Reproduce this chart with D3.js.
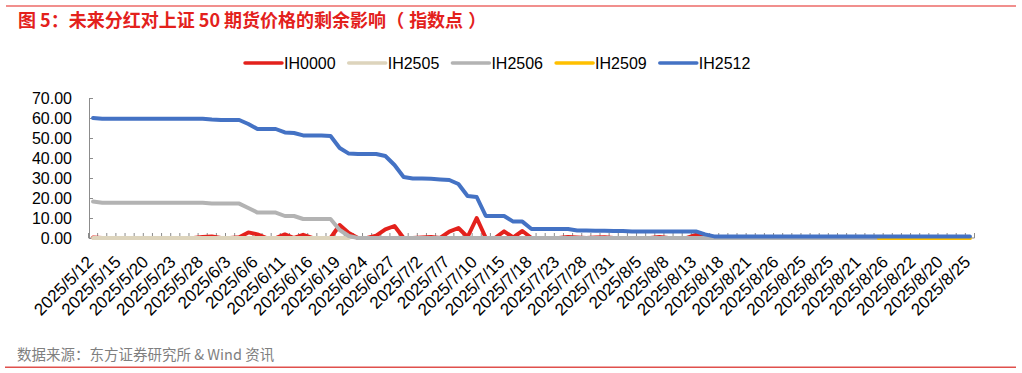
<!DOCTYPE html>
<html><head><meta charset="utf-8">
<script src="https://cdn.jsdelivr.net/npm/d3@7"></script>
<style>
html,body{margin:0;padding:0;background:#fff;}
svg{display:block;}
</style></head>
<body><svg id="chart" width="1022" height="373"></svg>
<script>
// ---- data ----
const categories = [
 "2025/5/12","2025/5/13","2025/5/14","2025/5/15","2025/5/16","2025/5/19","2025/5/20","2025/5/21","2025/5/22","2025/5/23",
 "2025/5/26","2025/5/27","2025/5/28","2025/5/29","2025/5/30","2025/6/3","2025/6/4","2025/6/5","2025/6/6","2025/6/9",
 "2025/6/10","2025/6/11","2025/6/12","2025/6/13","2025/6/16","2025/6/17","2025/6/18","2025/6/19","2025/6/20","2025/6/23",
 "2025/6/24","2025/6/25","2025/6/26","2025/6/27","2025/6/30","2025/7/1","2025/7/2","2025/7/3","2025/7/4","2025/7/7",
 "2025/7/8","2025/7/9","2025/7/10","2025/7/11","2025/7/14","2025/7/15","2025/7/16","2025/7/17","2025/7/18","2025/7/21",
 "2025/7/22","2025/7/23","2025/7/24","2025/7/25","2025/7/28","2025/7/29","2025/7/30","2025/7/31","2025/8/1","2025/8/4",
 "2025/8/5","2025/8/6","2025/8/7","2025/8/8","2025/8/11","2025/8/12","2025/8/13","2025/8/14","2025/8/15","2025/8/18",
 "2025/8/19","2025/8/20","2025/8/21","2025/8/22","2025/8/25","2025/8/26","2025/8/22","2025/8/25","2025/8/25","2025/8/26",
 "2025/8/22","2025/8/25","2025/8/26","2025/8/22","2025/8/21","2025/8/20","2025/8/22","2025/8/26","2025/8/25","2025/8/21",
 "2025/8/22","2025/8/21","2025/8/26","2025/8/20","2025/8/21","2025/8/22","2025/8/25"
];
const seriesNames = ["IH0000","IH2505","IH2506","IH2509","IH2512"];
const IH0000 = [
 0.3,0,0,0,0,0,0,0,0,0,
 0,0,0.5,0.8,0,0,0.4,2.8,1.8,0,
 0,1.8,0,1.6,0,0,0,6.5,2.5,0,
 0,1.2,4.3,6.0,0,0,0.3,0.5,0,3.2,
 5.0,0.5,10.0,0,0,3.3,0.3,3.5,0,0,
 0,0,0.5,0.3,0,0.3,0.4,0,0,0,
 0,0,0.5,0,0,0,1.5,0.5,0,0,
 0,0,0,0,0,0,null,null,null,null,
 null,null,null,null,null,null,null,null,null,null,
 null,null,null,null,null,null,null
];
const IH2505 = [
 0,0,0,0,0,0,0,0,0,0,
 0,0,0,0,0,0,0,0,0,0,
 0,0,0,0,0,0,0,0,0,null,
 null,null,null,null,null,null,null,null,null,null,
 null,null,null,null,null,null,null,null,null,null,
 null,null,null,null,null,null,null,null,null,null,
 null,null,null,null,null,null,null,null,null,null,
 null,null,null,null,null,null,null,null,null,null,
 null,null,null,null,null,null,null,null,null,null,
 null,null,null,null,null,null,null
];
const IH2506 = [
 18.2,17.6,17.6,17.6,17.6,17.6,17.6,17.6,17.6,17.6,
 17.6,17.6,17.6,17.2,17.2,17.2,17.2,15.0,12.7,12.7,
 12.7,11.0,11.0,9.5,9.5,9.5,9.5,4.0,1.0,0,
 0,0,0,0,0,0,0,0,0,0,
 0,0,0,0,0,0,0,0,0,0,
 0,0,0,0,0,0,0,0,0,0,
 0,0,0,0,0,0,0,0,0,0,
 0,0,0,0,0,0,0,0,0,0,
 0,0,0,0,0,0,0,0,0,0,
 0,0,0,0,0,0,0
];
const IH2509 = [
 null,null,null,null,null,null,null,null,null,null,
 null,null,null,null,null,null,null,null,null,null,
 null,null,null,null,null,null,null,null,null,null,
 null,null,null,null,null,null,null,null,null,null,
 null,null,null,null,null,null,null,null,null,null,
 null,null,null,null,null,null,null,null,null,null,
 null,null,null,null,null,null,null,null,null,null,
 null,null,null,null,null,null,null,null,null,null,
 null,null,null,null,null,null,0,0,0,0,
 0,0,0,0,0,0,0
];
const IH2512 = [
 60.0,59.6,59.6,59.6,59.6,59.6,59.6,59.6,59.6,59.6,
 59.6,59.6,59.6,59.2,59.0,59.0,59.0,57.0,54.5,54.5,
 54.5,52.8,52.5,51.3,51.2,51.2,51.0,45.0,42.2,42.0,
 42.0,42.0,41.0,36.5,30.5,29.8,29.8,29.6,29.3,29.0,
 27.0,21.0,20.5,11.0,11.0,11.0,8.2,8.2,4.5,4.5,
 4.5,4.5,4.5,3.8,3.7,3.6,3.6,3.5,3.5,3.3,
 3.3,3.3,3.3,3.3,3.3,3.3,3.3,1.8,0.8,0.8,
 0.8,0.8,0.8,0.8,0.8,0.8,0.8,0.8,0.8,0.8,
 0.8,0.8,0.8,0.8,0.8,0.8,0.8,0.8,0.8,0.8,
 0.8,0.8,0.8,0.8,0.8,0.8,0.8
];
const seriesColors = ["#e3211c","#ddd4bc","#b3b3b3","#ffc000","#4472c4"];
const yTicks = [0,10,20,30,40,50,60,70];
const labelEvery = 3;
const titleMain = "图 5：未来分红对上证 50 期货价格的剩余影响";
const titleParen = ["（","指数点","）"];
const sourceText = "数据来源：东方证券研究所 & Wind 资讯";

// ---- chart ----
const svg = d3.select("#chart");
svg.append("rect").attr("width",1022).attr("height",373).attr("fill","#fff");
const red = "#e3211c";
const cjkFont = "'Noto Sans CJK SC','Noto Sans',sans-serif";
// top rule & title
svg.append("line").attr("x1",6).attr("x2",1016).attr("y1",6).attr("y2",6).attr("stroke",red).attr("stroke-width",1.2);
const title = svg.append("text").attr("x",18).attr("y",27).attr("fill",red)
  .attr("font-family",cjkFont).attr("font-weight",700).attr("font-size",18);
title.append("tspan").text(titleMain);
title.append("tspan").text(titleParen[0]);
title.append("tspan").attr("dx",5).text(titleParen[1]);
title.append("tspan").attr("dx",5).text(titleParen[2]);
// bottom rule & source
svg.append("text").attr("x",17).attr("y",360).attr("fill","#7f7f7f")
  .attr("font-family",cjkFont).attr("font-size",14.5).text(sourceText);
svg.append("line").attr("x1",5).attr("x2",1016).attr("y1",367.3).attr("y2",367.3).attr("stroke","#e0504c").attr("stroke-width",1.5);

const idx = d3.range(categories.length);
const band = d3.scaleBand().domain(idx).range([88.5, 974.5]).paddingInner(0).paddingOuter(0);
const xc = i => band(i) + band.bandwidth()/2;
const y = d3.scaleLinear().domain([0,70]).range([238,98]);
const axisColor = "#8c8c8c";
const numFont = "'Liberation Sans',Arial,sans-serif";

// y axis
const yAxis = svg.append("g").attr("transform","translate(89,0)")
  .call(d3.axisLeft(y).tickValues(yTicks).tickFormat(d3.format(".2f")).tickSizeInner(-4).tickSizeOuter(0).tickPadding(17));
yAxis.select(".domain").attr("stroke",axisColor);
yAxis.selectAll(".tick line").attr("stroke",axisColor);
yAxis.selectAll(".tick text").attr("font-family",numFont).attr("font-size",16).attr("fill","#000");

// x axis line & ticks at category boundaries
const xg = svg.append("g");
xg.append("line").attr("x1",band.range()[0]).attr("x2",band.range()[1]).attr("y1",y(0)).attr("y2",y(0)).attr("stroke",axisColor);
const bounds = idx.map(i=>band(i)).concat([band.range()[1]]);
xg.selectAll("line.tk").data(bounds).join("line").attr("class","tk")
  .attr("x1",d=>d).attr("x2",d=>d).attr("y1",y(0)).attr("y2",y(0)-5).attr("stroke",axisColor);
xg.selectAll("text").data(idx.filter(i=>i%labelEvery===0)).join("text")
  .attr("transform",i=>`translate(${xc(i)+1.5},263) rotate(-45)`)
  .attr("text-anchor","end").attr("font-family",numFont).attr("font-size",17).attr("fill","#000")
  .text(i=>categories[i]);

// series
const allSeries = [IH0000,IH2505,IH2506,IH2509,IH2512];
const line = d3.line().defined(d=>d.v!==null).x(d=>xc(d.i)).y(d=>y(d.v));
allSeries.forEach((vals,k)=>{
  svg.append("path").datum(vals.map((v,i)=>({i,v})))
    .attr("d",line).attr("fill","none").attr("stroke",seriesColors[k])
    .attr("stroke-width",4).attr("stroke-linejoin","round").attr("stroke-linecap","round");
});

// legend
const lg = svg.append("g");
seriesNames.forEach((n,k)=>{
  const x0 = 245 + k*103.7;
  lg.append("line").attr("x1",x0).attr("x2",x0+37).attr("y1",63).attr("y2",63)
    .attr("stroke",seriesColors[k]).attr("stroke-width",3.5).attr("stroke-linecap","round");
  lg.append("text").attr("x",x0+39).attr("y",68.5).attr("font-family",numFont).attr("font-size",16).attr("fill","#000").text(n);
});
</script></body></html>
